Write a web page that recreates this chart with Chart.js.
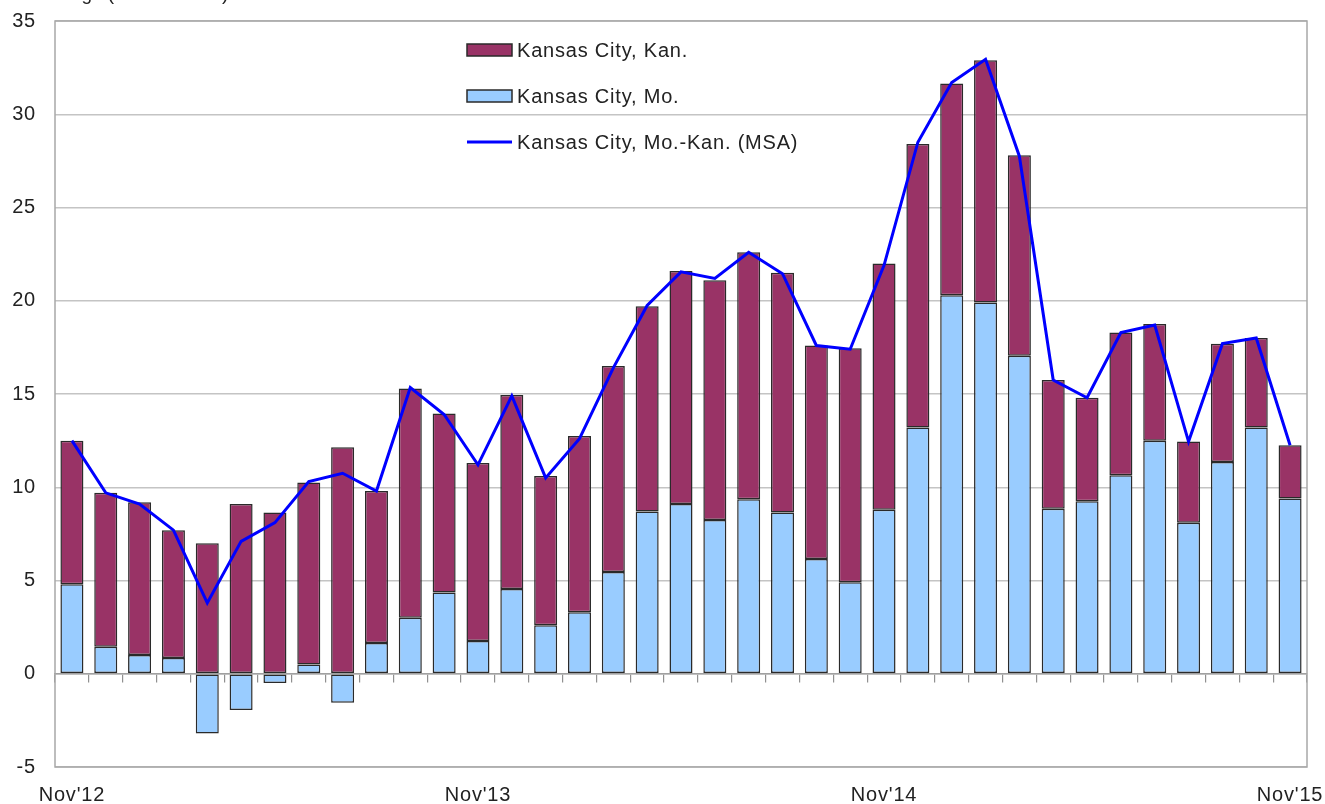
<!DOCTYPE html>
<html>
<head>
<meta charset="utf-8">
<title>Kansas City employment change</title>
<script src="https://cdn.jsdelivr.net/npm/chart.js@4.4.1/dist/chart.umd.min.js"></script>
<style>
  html, body { margin: 0; padding: 0; background: #fff; }
  #wrap { width: 1325px; height: 804px; position: relative; }
</style>
</head>
<body>
<div id="wrap"><canvas id="barChart"></canvas></div>
<script>
// months, Nov'12 .. Nov'15
var months = [
    "Nov'12", "Dec'12", "Jan'13", "Feb'13", "Mar'13", "Apr'13", "May'13", "Jun'13", "Jul'13", "Aug'13", "Sep'13", "Oct'13",
    "Nov'13", "Dec'13", "Jan'14", "Feb'14", "Mar'14", "Apr'14", "May'14", "Jun'14", "Jul'14", "Aug'14", "Sep'14", "Oct'14",
    "Nov'14", "Dec'14", "Jan'15", "Feb'15", "Mar'15", "Apr'15", "May'15", "Jun'15", "Jul'15", "Aug'15", "Sep'15", "Oct'15",
    "Nov'15"
];
// labels shown on the x axis
var shownLabels = ["Nov'12", "Nov'13", "Nov'14", "Nov'15"];

var kansasCityMo = [
    4.8, 1.45, 1.0, 0.85, -3.2, -1.95, -0.5, 0.5, -1.55, 1.65, 3.0, 4.35,
    1.75, 4.55, 2.6, 3.3, 5.45, 8.7, 9.1, 8.25, 9.35, 8.65, 6.15, 4.9,
    8.8, 13.2, 20.3, 19.9, 17.05, 8.85, 9.25, 10.65, 12.5, 8.1, 11.35, 13.2,
    9.4
];
var kansasCityKan = [
    7.7, 8.25, 8.2, 6.85, 7.0, 9.1, 8.65, 9.75, 12.15, 8.15, 12.3, 9.6,
    9.55, 10.4, 8.0, 9.45, 11.05, 11.0, 12.5, 12.85, 13.25, 12.85, 11.45, 12.55,
    13.2, 15.2, 11.35, 13.0, 10.75, 6.9, 5.55, 7.65, 6.25, 4.35, 6.35, 4.8,
    2.85
];
var kansasCityMsa = [
    12.5, 9.7, 9.1, 7.7, 3.8, 7.1, 8.1, 10.3, 10.75, 9.8, 15.35, 13.9,
    11.2, 14.9, 10.5, 12.6, 16.4, 19.75, 21.55, 21.2, 22.6, 21.45, 17.6, 17.4,
    21.9, 28.5, 31.7, 32.95, 27.75, 15.75, 14.8, 18.3, 18.7, 12.45, 17.7, 18.0,
    12.25
];
var yTicks = [-5, 0, 5, 10, 15, 20, 25, 30, 35];

var fontFamily = "'Liberation Sans', Arial, sans-serif";
var textColor = "#222";
var spacing = "0.8px";

// a bit of letter spacing for all canvas text
var spacingPlugin = {
    id: "spacing",
    beforeUpdate: function (chart) { chart.ctx.letterSpacing = spacing; },
    beforeLayout: function (chart) { chart.ctx.letterSpacing = spacing; },
    beforeDraw: function (chart) { chart.ctx.letterSpacing = spacing; },
};

// keep the plot area where the layout padding puts it
function noScalePadding(scale) {
    scale.paddingLeft = 0;
    scale.paddingRight = 0;
    scale.paddingTop = 0;
    scale.paddingBottom = 0;
}

// frame round the plot area + the cut-off axis title
var framePlugin = {
    id: "frame",
    beforeDatasetsDraw: function (chart) {
        var a = chart.chartArea;
        var ctx = chart.ctx;
        ctx.save();
        ctx.strokeStyle = "#a8a8a8";
        ctx.lineWidth = 1.5;
        ctx.strokeRect(a.left, a.top, a.right - a.left, a.bottom - a.top);
        ctx.restore();
    },
    afterDraw: function (chart) {
        var ctx = chart.ctx;
        ctx.save();
        ctx.fillStyle = textColor;
        ctx.font = "19px " + fontFamily;
        ctx.letterSpacing = "0px";
        ctx.textBaseline = "alphabetic";
        ctx.fillText("Change (in thousands)", 36, 0);
        ctx.restore();
    }
};

// legend drawn inside the plot area
var legendPlugin = {
    id: "innerLegend",
    afterDraw: function (chart) {
        var ctx = chart.ctx;
        var sets = chart.data.datasets;
        var items = [sets[1], sets[0], sets[2]];
        var x = 467, y = 50;
        ctx.save();
        ctx.font = "20px " + fontFamily;
        ctx.textBaseline = "middle";
        for (let i = 0; i < items.length; i++) {
            let ds = items[i];
            let cy = y + i * 46;
            if (ds.type === "line") {
                ctx.strokeStyle = ds.borderColor;
                ctx.lineWidth = 3;
                ctx.beginPath();
                ctx.moveTo(x, cy);
                ctx.lineTo(x + 45, cy);
                ctx.stroke();
            } else {
                ctx.fillStyle = ds.backgroundColor;
                ctx.fillRect(x, cy - 6, 45, 12);
                ctx.strokeStyle = "#2a2a2a";
                ctx.lineWidth = 1.5;
                ctx.strokeRect(x, cy - 6, 45, 12);
            }
            ctx.fillStyle = textColor;
            ctx.fillText(ds.label, x + 50, cy + 1);
        }
        ctx.restore();
    }
};

var barChartData = {
    labels: months,
    datasets: [
        {
            label: "Kansas City, Mo.",
            type: "bar",
            data: kansasCityMo,
            backgroundColor: "#99ccff",
            borderColor: "#2a2a2a",
            borderWidth: 1.5,
            borderSkipped: false,
            stack: "bars",
            xAxisID: "x",
            order: 2,
        },
        {
            label: "Kansas City, Kan.",
            type: "bar",
            data: kansasCityKan,
            backgroundColor: "#993366",
            borderColor: "#2a2a2a",
            borderWidth: 1.5,
            borderSkipped: false,
            stack: "bars",
            xAxisID: "x",
            order: 2,
        },
        {
            label: "Kansas City, Mo.-Kan. (MSA)",
            type: "line",
            data: kansasCityMsa,
            borderColor: "#0000ff",
            borderWidth: 3,
            pointRadius: 0,
            tension: 0,
            fill: false,
            stack: "msa",
            xAxisID: "x",
            order: 0,
        },
    ],
};

var barChartOptions = {
    responsive: true,
    maintainAspectRatio: false,
    animation: false,
    barPercentage: 0.68,
    categoryPercentage: 1.0,
    layout: { padding: { top: 21, right: 18, left: 0, bottom: 0 } },
    plugins: {
        legend: { display: false },
        tooltip: { enabled: false },
    },
    scales: {
        x: {
            type: "category",
            offset: true,
            grid: { display: false, drawTicks: false },
            border: { display: false },
            ticks: {
                autoSkip: false,
                maxRotation: 0,
                padding: 16,
                color: textColor,
                font: { family: fontFamily, size: 20 },
                callback: function (value, index) {
                    var lab = months[index];
                    return shownLabels.indexOf(lab) >= 0 ? lab : "";
                },
            },
            afterFit: function (scale) {
                scale.height = 37;
                noScalePadding(scale);
            },
        },
        x2: {
            type: "category",
            position: { y: 0 },
            offset: true,
            grid: {
                offset: true,
                drawOnChartArea: false,
                drawTicks: true,
                tickLength: 8,
                color: "#909090",
                lineWidth: 1.2,
            },
            border: { display: true, color: "#a0a0a0", width: 1.5 },
            ticks: { display: false },
            afterFit: noScalePadding,
        },
        y: {
            stacked: true,
            min: -5,
            max: 35,
            afterBuildTicks: function (scale) {
                scale.ticks = yTicks.map(function (v) { return { value: v }; });
            },
            grid: { color: "#c4c4c4", lineWidth: 1.5, drawTicks: false },
            border: { display: false },
            ticks: {
                padding: 19,
                color: textColor,
                font: { family: fontFamily, size: 20 },
            },
            afterFit: function (scale) {
                scale.width = 55;
                noScalePadding(scale);
            },
        },
    },
};

var barChartCanvas = document.getElementById("barChart");
new Chart(barChartCanvas, {
    type: "bar",
    data: barChartData,
    options: barChartOptions,
    plugins: [spacingPlugin, framePlugin, legendPlugin],
});
</script>
</body>
</html>
